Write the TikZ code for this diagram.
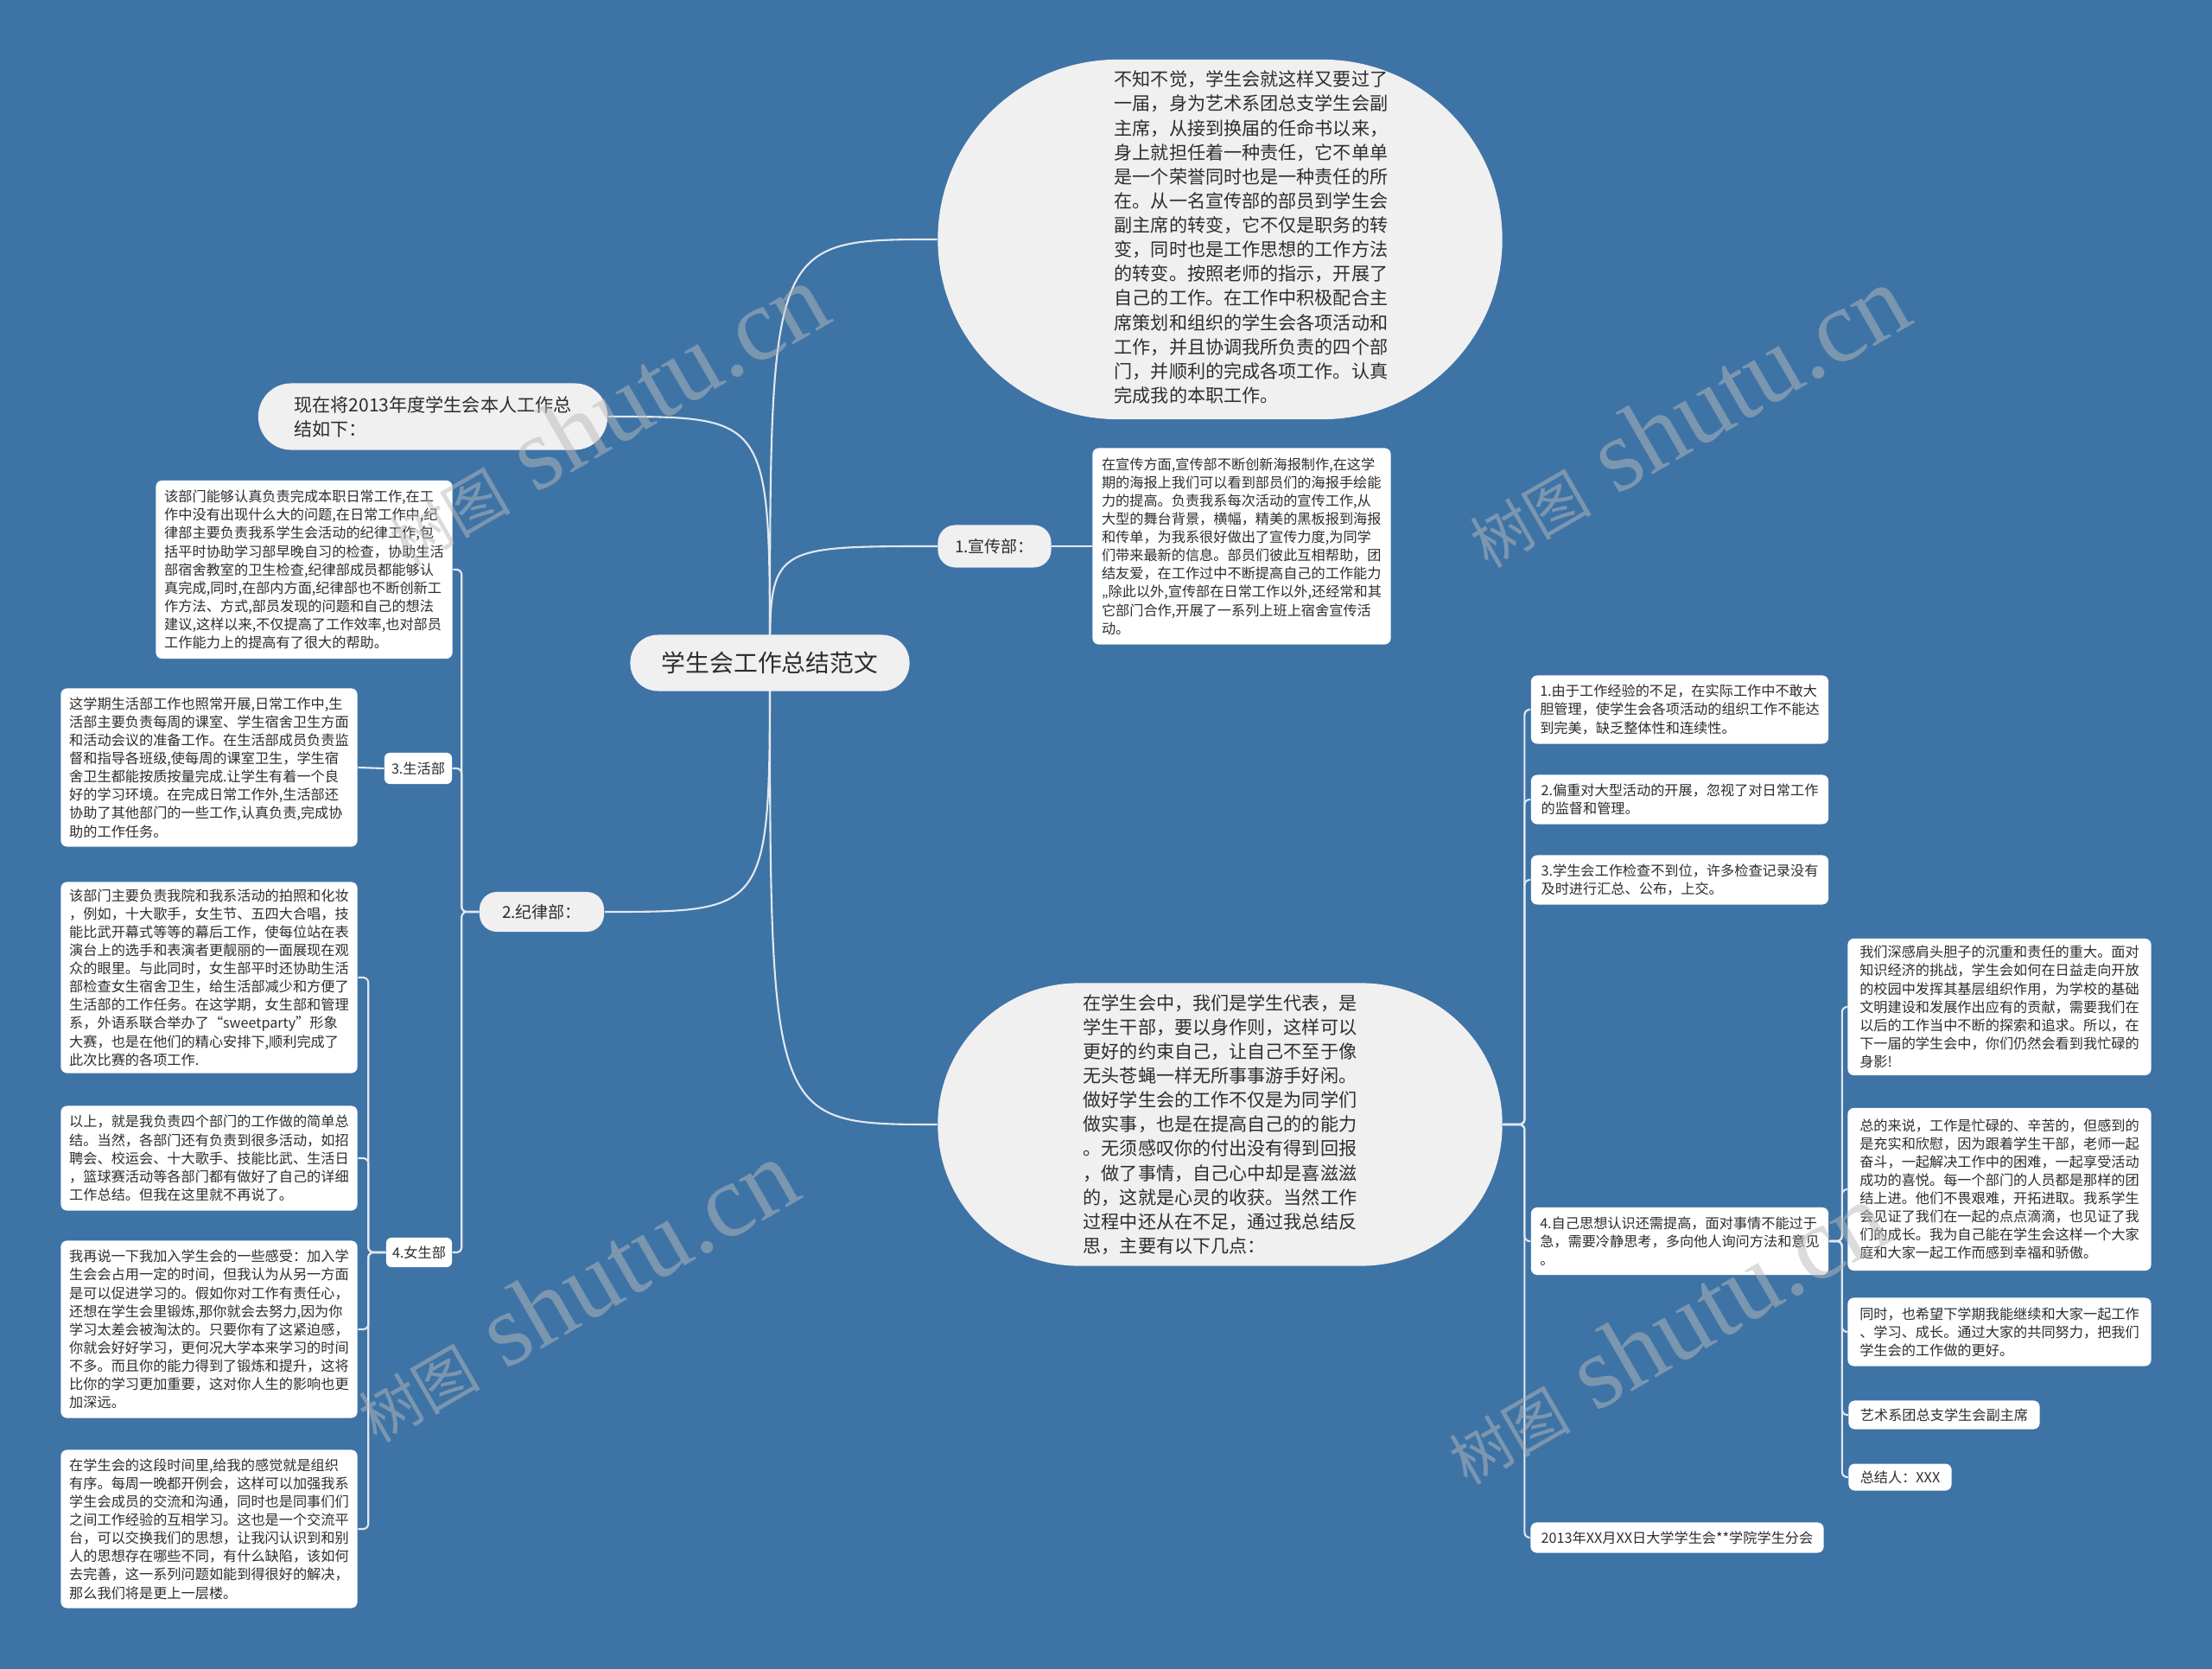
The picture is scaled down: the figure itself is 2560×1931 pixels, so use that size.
\documentclass[tikz,border=0pt]{standalone}
\usepackage{fontspec}
\setmainfont{Noto Sans CJK SC}
\newfontfamily\wmfont{Liberation Serif}
\usepackage{tikz}
\usetikzlibrary{backgrounds}
\definecolor{bgblue}{RGB}{62,115,166}
\definecolor{bubblefill}{RGB}{240,240,240}
\definecolor{linkcol}{RGB}{228,232,238}
\definecolor{txt}{RGB}{45,45,45}

\begin{document}
\begin{tikzpicture}[x=0.01cm, y=-0.01cm,
  root/.style={fill=bubblefill, rounded corners=0.32cm, inner sep=0pt, minimum width=3.23cm, minimum height=0.65cm, text=txt, font=\fontsize{7.9}{9}\selectfont},
  bubble/.style={fill=bubblefill, inner sep=0pt, align=left, text=txt, font=\fontsize{6}{8}\selectfont},
  topic/.style={fill=bubblefill, rounded corners=0.2cm, inner sep=0pt, text=txt, font=\fontsize{5.4}{6.5}\selectfont},
  tag/.style={fill=white, rounded corners=0.06cm, inner sep=0pt, text=txt, font=\fontsize{4.6}{6}\selectfont},
  note/.style={fill=white, rounded corners=0.07cm, inner sep=0pt, align=left, text=txt, font=\fontsize{4.6}{6}\selectfont},
  link/.style={draw=linkcol, line width=0.6pt, rounded corners=0.06cm},
  wm/.style={text=gray!55!white, opacity=0.5, rotate=30, font=\fontsize{34}{38}\selectfont\wmfont}]

\useasboundingbox (0,0) rectangle (2560,1931);

\node[root] (root) at (891,767) {学生会工作总结范文};

\node[bubble, align=center, rounded corners=2.08cm, minimum width=6.53cm, minimum height=4.16cm] (topbub) at (1412,277) {\hspace*{0.72cm}\begin{tabular}{@{}l@{}}不知不觉，学生会就这样又要过了\\一届，身为艺术系团总支学生会副\\主席，从接到换届的任命书以来，\\身上就担任着一种责任，它不单单\\是一个荣誉同时也是一种责任的所\\在。从一名宣传部的部员到学生会\\副主席的转变，它不仅是职务的转\\变，同时也是工作思想的工作方法\\的转变。按照老师的指示，开展了\\自己的工作。在工作中积极配合主\\席策划和组织的学生会各项活动和\\工作，并且协调我所负责的四个部\\门，并顺利的完成各项工作。认真\\完成我的本职工作。\end{tabular}};

\node[bubble, rounded corners=0.38cm, minimum width=4.04cm, minimum height=0.77cm] (intro) at (501,482) {现在将2013年度学生会本人工作总\\结如下：};

\node[topic, minimum width=1.31cm, minimum height=0.49cm] (xuan) at (1151,632) {1.宣传部：};
\node[note, minimum width=3.45cm, minimum height=2.27cm] (xuannote) at (1437,632) {在宣传方面,宣传部不断创新海报制作,在这学\\期的海报上我们可以看到部员们的海报手绘能\\力的提高。负责我系每次活动的宣传工作,从\\大型的舞台背景，横幅，精美的黑板报到海报\\和传单，为我系很好做出了宣传力度,为同学\\们带来最新的信息。部员们彼此互相帮助，团\\结友爱，在工作过中不断提高自己的工作能力\\,,除此以外,宣传部在日常工作以外,还经常和其\\它部门合作,开展了一系列上班上宿舍宣传活\\动。};

\node[topic, minimum width=1.44cm, minimum height=0.46cm] (jilv) at (627,1055) {2.纪律部：};
\node[note, minimum width=3.43cm, minimum height=2.06cm] (jilvnote) at (352,659) {该部门能够认真负责完成本职日常工作,在工\\作中没有出现什么大的问题,在日常工作中,纪\\律部主要负责我系学生会活动的纪律工作,包\\括平时协助学习部早晚自习的检查，协助生活\\部宿舍教室的卫生检查,纪律部成员都能够认\\真完成,同时,在部内方面,纪律部也不断创新工\\作方法、方式,部员发现的问题和自己的想法\\建议,这样以来,不仅提高了工作效率,也对部员\\工作能力上的提高有了很大的帮助。};

\node[tag, minimum width=0.78cm, minimum height=0.36cm] (sheng) at (484,889) {3.生活部};
\node[note, minimum width=3.43cm, minimum height=1.83cm] (shengnote) at (242,888) {这学期生活部工作也照常开展,日常工作中,生\\活部主要负责每周的课室、学生宿舍卫生方面\\和活动会议的准备工作。在生活部成员负责监\\督和指导各班级,使每周的课室卫生，学生宿\\舍卫生都能按质按量完成.让学生有着一个良\\好的学习环境。在完成日常工作外,生活部还\\协助了其他部门的一些工作,认真负责,完成协\\助的工作任务。};

\node[tag, minimum width=0.76cm, minimum height=0.34cm] (nv) at (485,1449) {4.女生部};
\node[note, minimum width=3.43cm, minimum height=2.21cm] (nva) at (242,1131) {该部门主要负责我院和我系活动的拍照和化妆\\，例如，十大歌手，女生节、五四大合唱，技\\能比武开幕式等等的幕后工作，使每位站在表\\演台上的选手和表演者更靓丽的一面展现在观\\众的眼里。与此同时，女生部平时还协助生活\\部检查女生宿舍卫生，给生活部减少和方便了\\生活部的工作任务。在这学期，女生部和管理\\系，外语系联合举办了“sweetparty”形象\\大赛，也是在他们的精心安排下,顺利完成了\\此次比赛的各项工作.};
\node[note, minimum width=3.43cm, minimum height=1.21cm] (nvb) at (242,1340) {以上，就是我负责四个部门的工作做的简单总\\结。当然，各部门还有负责到很多活动，如招\\聘会、校运会、十大歌手、技能比武、生活日\\，篮球赛活动等各部门都有做好了自己的详细\\工作总结。但我在这里就不再说了。};
\node[note, minimum width=3.43cm, minimum height=2.05cm] (nvc) at (242,1538) {我再说一下我加入学生会的一些感受：加入学\\生会会占用一定的时间，但我认为从另一方面\\是可以促进学习的。假如你对工作有责任心，\\还想在学生会里锻炼,那你就会去努力,因为你\\学习太差会被淘汰的。只要你有了这紧迫感，\\你就会好好学习，更何况大学本来学习的时间\\不多。而且你的能力得到了锻炼和提升，这将\\比你的学习更加重要，这对你人生的影响也更\\加深远。};
\node[note, minimum width=3.43cm, minimum height=1.83cm] (nvd) at (242,1769) {在学生会的这段时间里,给我的感觉就是组织\\有序。每周一晚都开例会，这样可以加强我系\\学生会成员的交流和沟通，同时也是同事们们\\之间工作经验的互相学习。这也是一个交流平\\台，可以交换我们的思想，让我闪认识到和别\\人的思想存在哪些不同，有什么缺陷，该如何\\去完善，这一系列问题如能到得很好的解决，\\那么我们将是更上一层楼。};

\node[bubble, rounded corners=1.63cm, minimum width=6.53cm, minimum height=3.27cm] (botbub) at (1412,1301) {在学生会中，我们是学生代表，是\\学生干部，要以身作则，这样可以\\更好的约束自己，让自己不至于像\\无头苍蝇一样无所事事游手好闲。\\做好学生会的工作不仅是为同学们\\做实事，也是在提高自己的的能力\\。无须感叹你的付出没有得到回报\\，做了事情，自己心中却是喜滋滋\\的，这就是心灵的收获。当然工作\\过程中还从在不足，通过我总结反\\思，主要有以下几点：};

\node[note, minimum width=3.44cm, minimum height=0.79cm] (r1) at (1944,821) {1.由于工作经验的不足，在实际工作中不敢大\\胆管理，使学生会各项活动的组织工作不能达\\到完美，缺乏整体性和连续性。};
\node[note, minimum width=3.44cm, minimum height=0.57cm] (r2) at (1944,925) {2.偏重对大型活动的开展，忽视了对日常工作\\的监督和管理。};
\node[note, minimum width=3.44cm, minimum height=0.57cm] (r3) at (1944,1018) {3.学生会工作检查不到位，许多检查记录没有\\及时进行汇总、公布，上交。};
\node[note, minimum width=3.44cm, minimum height=0.78cm] (r4) at (1944,1436) {4.自己思想认识还需提高，面对事情不能过于\\急，需要冷静思考，多向他人询问方法和意见\\。};
\node[note, minimum width=3.39cm, minimum height=0.35cm] (r5) at (1941,1779) {2013年XX月XX日大学学生会**学院学生分会};

\node[note, minimum width=3.51cm, minimum height=1.58cm] (f1) at (2314,1165) {我们深感肩头胆子的沉重和责任的重大。面对\\知识经济的挑战，学生会如何在日益走向开放\\的校园中发挥其基层组织作用，为学校的基础\\文明建设和发展作出应有的贡献，需要我们在\\以后的工作当中不断的探索和追求。所以，在\\下一届的学生会中，你们仍然会看到我忙碌的\\身影!};
\node[note, minimum width=3.51cm, minimum height=1.88cm] (f2) at (2314,1376) {总的来说，工作是忙碌的、辛苦的，但感到的\\是充实和欣慰，因为跟着学生干部，老师一起\\奋斗，一起解决工作中的困难，一起享受活动\\成功的喜悦。每一个部门的人员都是那样的团\\结上进。他们不畏艰难，开拓进取。我系学生\\会见证了我们在一起的点点滴滴，也见证了我\\们的成长。我为自己能在学生会这样一个大家\\庭和大家一起工作而感到幸福和骄傲。};
\node[note, minimum width=3.51cm, minimum height=0.79cm] (f3) at (2314,1541) {同时，也希望下学期我能继续和大家一起工作\\、学习、成长。通过大家的共同努力，把我们\\学生会的工作做的更好。};
\node[note, minimum width=2.21cm, minimum height=0.33cm] (f4) at (2250,1637) {艺术系团总支学生会副主席};
\node[note, minimum width=1.19cm, minimum height=0.31cm] (f5) at (2199,1709) {总结人：XXX};

\begin{scope}[on background layer]
\fill[bgblue] (0,0) rectangle (2560,1931);
\draw[link] (root.center) .. controls (root.center |- topbub.west) .. (topbub.west);
\draw[link] (root.center) .. controls (root.center |- intro.east) .. (intro.east);
\draw[link] (root.center) .. controls (root.center |- xuan.west) .. (xuan.west);
\draw[link] (root.center) .. controls (root.center |- jilv.east) .. (jilv.east);
\draw[link] (root.center) .. controls (root.center |- botbub.west) .. (botbub.west);

\draw[link] (xuan.east) -- (xuannote.west);
\draw[link] (jilv.west) -- ++(-20,0) |- (jilvnote.east);
\draw[link] (jilv.west) -- ++(-20,0) |- (sheng.east);
\draw[link] (jilv.west) -- ++(-20,0) |- (nv.east);
\draw[link] (sheng.west) -- (shengnote.east);
\draw[link] (nv.west) -- ++(-20,0) |- (nva.east);
\draw[link] (nv.west) -- ++(-20,0) |- (nvb.east);
\draw[link] (nv.west) -- ++(-20,0) |- (nvc.east);
\draw[link] (nv.west) -- ++(-20,0) |- (nvd.east);

\draw[link] (botbub.east) -- ++(25,0) |- (r1.west);
\draw[link] (botbub.east) -- ++(25,0) |- (r2.west);
\draw[link] (botbub.east) -- ++(25,0) |- (r3.west);
\draw[link] (botbub.east) -- ++(25,0) |- (r4.west);
\draw[link] (botbub.east) -- ++(25,0) |- (r5.west);
\draw[link] (r4.east) -- ++(15,0) |- (f1.west);
\draw[link] (r4.east) -- ++(15,0) |- (f2.west);
\draw[link] (r4.east) -- ++(15,0) |- (f3.west);
\draw[link] (r4.east) -- ++(15,0) |- (f4.west);
\draw[link] (r4.east) -- ++(15,0) |- (f5.west);
\end{scope}

\node[wm] (wm1) at (700,480) {{\normalfont\fontsize{20}{22}\selectfont 树图} shutu.cn};
\node[wm] (wm2) at (1951,482) {{\normalfont\fontsize{20}{22}\selectfont 树图} shutu.cn};
\node[wm] (wm3) at (665,1494) {{\normalfont\fontsize{20}{22}\selectfont 树图} shutu.cn};
\node[wm] (wm4) at (1927,1543) {{\normalfont\fontsize{20}{22}\selectfont 树图} shutu.cn};

\end{tikzpicture}
\end{document}
